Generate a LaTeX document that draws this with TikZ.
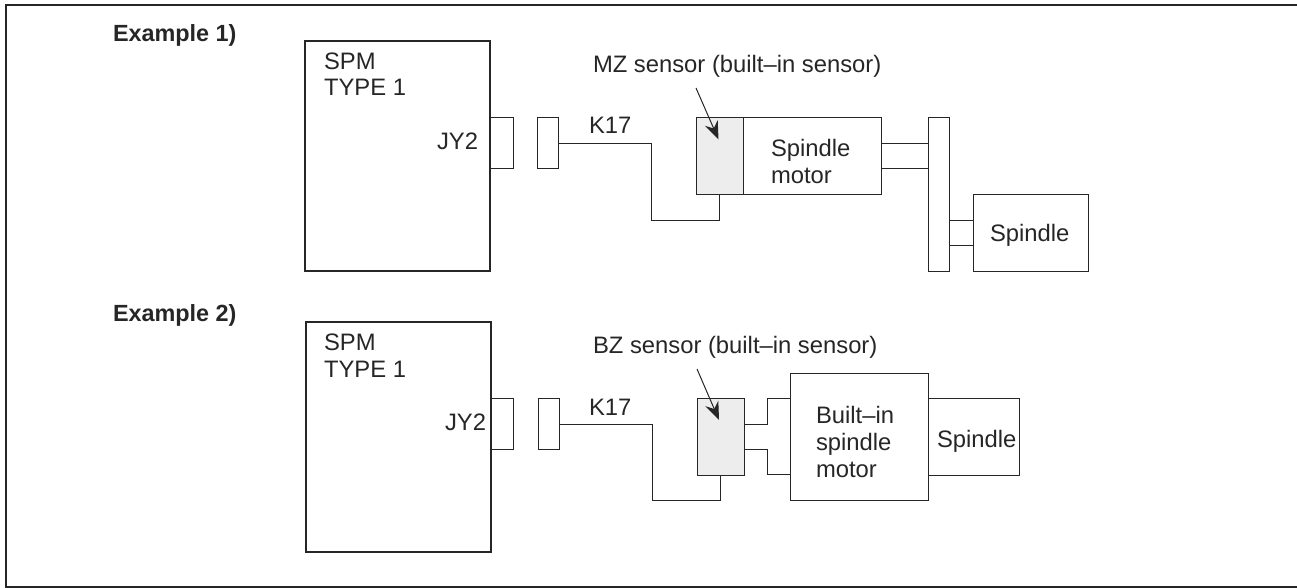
\documentclass[tikz,border=0pt]{standalone}
\usepackage{fontspec}
\setsansfont{Liberation Sans}
\usetikzlibrary{arrows.meta}

\begin{document}
\begin{tikzpicture}[font=\sffamily\fontsize{23.8}{26.7}\selectfont, x=1pt, y=-1pt, color=black!85]
\tikzstyle{part}=[draw, line width=1pt, inner sep=0pt, outer sep=0pt]
\tikzstyle{unit}=[part, line width=2pt]
\tikzstyle{sensor}=[part, fill=black!7]
\tikzstyle{txt}=[inner sep=0pt, outer sep=0pt, align=left, anchor=base west]
\tikzstyle{title}=[txt, font=\sffamily\bfseries\fontsize{23.4}{26.7}\selectfont]
\tikzstyle{line}=[line width=1pt]
\tikzstyle{pointer}=[line, -{Stealth[length=18pt, width=14pt, inset=6pt]}]
\useasboundingbox (0,0) rectangle (1297,588);
\draw[line width=1.5pt] (1297,5) -- (6,5) -- (6,587) -- (1297,587);
\node[title] (titleA) at (113,42) {Example 1)};
\node[title] (titleB) at (113,321) {Example 2)};
% first example
\node[part, minimum width=23, minimum height=51] (jackA) at (501.5,143.5) {};
\node[unit, minimum width=185, minimum height=230] (spmA) at (397.5,156) {};
\node[txt] (nameA) at (324,96) {SPM\\TYPE 1};
\node[txt] (labelA) at (437,150) {JY2};
\node[part, minimum width=21, minimum height=51] (plugA) at (547.5,143.5) {};
\node[txt] (cableA) at (589,134) {K17};
\node[sensor, minimum width=47, minimum height=76] (sensorA) at (719.5,156) {};
\node[part, minimum width=138, minimum height=76] (motorA) at (812,156) {};
\node[txt] (motorTextA) at (771,183) {Spindle\\motor};
\node[part, minimum width=21, minimum height=153] (diskA) at (938.5,194.5) {};
\node[part, minimum width=115, minimum height=77] (spindleA) at (1030.5,232.5) {};
\node[txt] (spindleTextA) at (990,241) {Spindle};
\node[txt] (sensorTextA) at (593,73) {MZ sensor (built--in sensor)};
\coordinate (bendA) at (651,220);
\coordinate (fromA) at (696,88);
\coordinate (tipA) at (718.5,139.5);
\draw[line] (plugA.east) -| (bendA) -| (sensorA.south);
\draw[line] ([yshift=12.5pt]motorA.east) -- ([yshift=12.5pt]motorA.east -| diskA.west);
\draw[line] ([yshift=-12.5pt]motorA.east) -- ([yshift=-12.5pt]motorA.east -| diskA.west);
\draw[line] ([yshift=12.5pt]spindleA.west) -- ([yshift=12.5pt]spindleA.west -| diskA.east);
\draw[line] ([yshift=-12.5pt]spindleA.west) -- ([yshift=-12.5pt]spindleA.west -| diskA.east);
\draw[pointer] (fromA) -- (tipA);
% second example
\node[part, minimum width=23, minimum height=51] (jackB) at (502,424) {};
\node[unit, minimum width=185, minimum height=230] (spmB) at (398,437) {};
\node[txt] (nameB) at (324,377) {SPM\\TYPE 1};
\node[txt] (labelB) at (445,430) {JY2};
\node[part, minimum width=21, minimum height=51] (plugB) at (548.5,424) {};
\node[txt] (cableB) at (589,415) {K17};
\node[sensor, minimum width=47, minimum height=77] (sensorB) at (720.5,437) {};
\node[part, minimum width=138, minimum height=127] (motorB) at (859,436.5) {};
\node[txt] (motorTextB) at (816,477) {Built--in\\spindle\\motor};
\node[part, minimum width=91, minimum height=77] (spindleB) at (973.5,436.5) {};
\node[txt] (spindleTextB) at (937,447) {Spindle};
\node[txt] (sensorTextB) at (593,353) {BZ sensor (built--in sensor)};
\coordinate (bendB) at (652,500.5);
\coordinate (stepB) at (767,436);
\coordinate (fromB) at (697,369);
\coordinate (tipB) at (719,420);
\draw[line] (plugB.east) -| (bendB) -| (sensorB.south);
\draw[line] ([yshift=12.5pt]sensorB.east) -| ([yshift=38pt]stepB) -- ([yshift=38pt]stepB -| motorB.west);
\draw[line] ([yshift=-12.5pt]sensorB.east) -| ([yshift=-38pt]stepB) -- ([yshift=-38pt]stepB -| motorB.west);
\draw[pointer] (fromB) -- (tipB);
\end{tikzpicture}
\end{document}
